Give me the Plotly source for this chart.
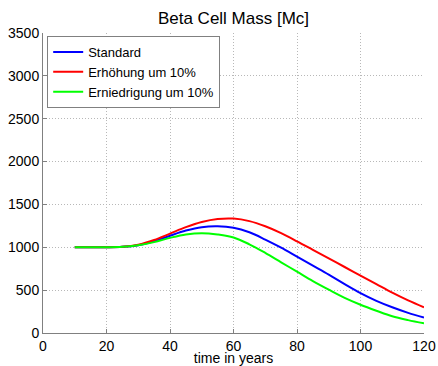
import plotly.graph_objects as go

years = [10, 15, 20, 25, 30, 35, 40, 45, 50, 55, 60, 65, 70, 75, 80, 85, 90, 95, 100, 105, 110, 115, 120]
standard = [1000, 1000, 1000, 1005, 1025, 1070, 1135, 1195, 1235, 1245, 1228, 1175, 1090, 995, 890, 785, 680, 570, 465, 375, 300, 235, 180]
erhoehung = [1000, 1000, 1000, 1005, 1030, 1085, 1160, 1235, 1295, 1330, 1335, 1305, 1245, 1165, 1070, 970, 870, 770, 670, 570, 470, 380, 300]
erniedrigung = [1000, 1000, 1000, 1005, 1025, 1060, 1110, 1150, 1165, 1150, 1115, 1035, 935, 825, 715, 605, 505, 410, 330, 260, 195, 150, 113]

series = [
    ("Standard", standard, "#0000ff"),
    ("Erhöhung um 10%", erhoehung, "#ff0000"),
    ("Erniedrigung um 10%", erniedrigung, "#00ff00"),
]

fig = go.Figure()
for name, vals, col in series:
    fig.add_trace(go.Scatter(x=years, y=vals, name=name, mode="lines",
                             line=dict(color=col, width=2, shape="spline")))

fig.update_layout(
    width=438, height=366,
    margin=dict(l=43, r=14, t=33, b=33, autoexpand=False),
    paper_bgcolor="white", plot_bgcolor="white",
    font=dict(family="Liberation Sans, Arial, sans-serif", size=14, color="black"),
    title=dict(text="Beta Cell Mass [Mc]", xref="paper", x=0.5, xanchor="center",
               y=0.95, yanchor="middle", font=dict(size=17)),
    showlegend=True,
    legend=dict(x=0.011, y=0.99, xanchor="left", yanchor="top",
                bgcolor="white", bordercolor="#808080", borderwidth=1,
                font=dict(size=13), tracegroupgap=0, itemwidth=30),
)
fig.update_xaxes(range=[0, 120], tickvals=[0, 20, 40, 60, 80, 100, 120],
                 showgrid=True, gridcolor="#b8b8b8", griddash="1px,2px", gridwidth=1,
                 showline=True, linecolor="#808080", linewidth=1,
                 ticks="inside", ticklen=4, tickcolor="#808080", automargin=False,
                 zeroline=False, title=dict(text="time in years", font=dict(size=14)),
                 tickfont=dict(size=14))
fig.update_yaxes(range=[0, 3500], tickvals=[0, 500, 1000, 1500, 2000, 2500, 3000, 3500],
                 showgrid=True, gridcolor="#b8b8b8", griddash="1px,2px", gridwidth=1,
                 showline=True, linecolor="#808080", linewidth=1,
                 ticks="inside", ticklen=4, tickcolor="#808080", automargin=False,
                 zeroline=False, tickfont=dict(size=14))

fig.write_html("out.html", config={"displayModeBar": False},
               post_script="document.body.style.margin='0';document.body.style.overflow='hidden';")
